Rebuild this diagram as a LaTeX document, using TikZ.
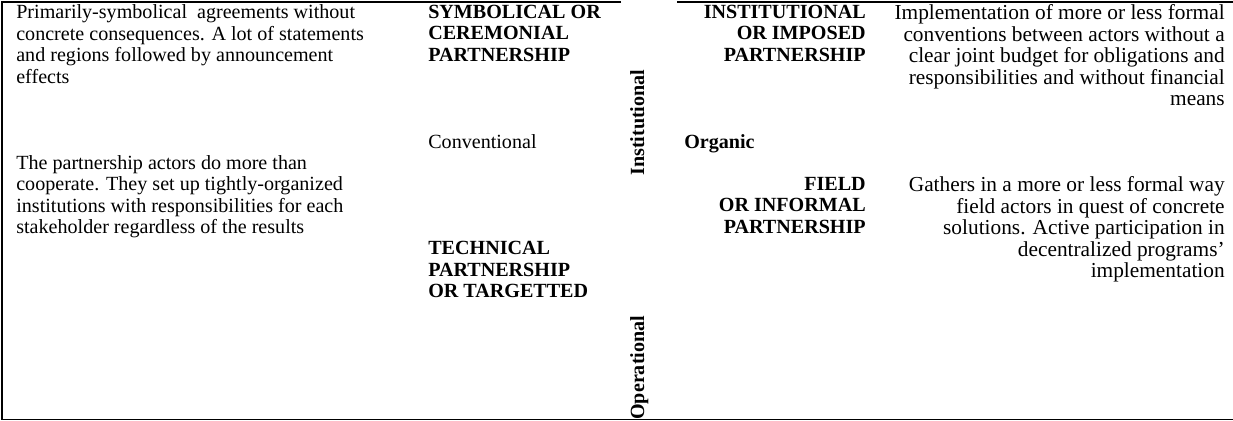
\documentclass[tikz,border=0pt]{standalone}
\usepackage{fontspec}
\setmainfont{Liberation Serif}
\newcommand\cellfont{\fontsize{12.9}{13.8}\selectfont}
\newcommand\sidefont{\fontsize{13.7}{13.8}\selectfont}

\begin{document}
\begin{tikzpicture}[x=0.642pt, y=-0.642pt,
		every node/.style={inner sep=0pt, font=\cellfont},
		txtleft/.style={anchor=north west, align=left, execute at begin node=\strut},
		txtright/.style={anchor=north east, align=right, execute at begin node=\strut},
		boldtxt/.style={font=\cellfont\bfseries},
		sidetxt/.style={font=\sidefont},
		axislabel/.style={rotate=90, anchor=base west, font=\cellfont\bfseries}]
			%%%%% START %%%%%
			\useasboundingbox (0, 0) rectangle (1233, 421);
			
			% table rules
			\draw[line width=1.2pt, line join=miter] (621, 2) -- (2, 2) -- (2, 419.5) -- (1233, 419.5);
			\draw[line width=1.2pt] (677, 2) -- (1233, 2);
			
			% left half
			\node[txtleft] (symbdesc) at (16, 4.6) {Primarily-symbolical\ \ agreements without\\concrete consequences. A lot of statements\\and regions followed by announcement\\effects};
			\node[txtleft] (techdesc) at (16, 155.1) {The partnership actors do more than\\cooperate. They set up tightly-organized\\institutions with responsibilities for each\\stakeholder regardless of the results};
			
			\node[txtleft, boldtxt] (symb) at (428, 4.6) {SYMBOLICAL OR\\CEREMONIAL\\PARTNERSHIP};
			\node[txtleft] (conv) at (428, 133.6) {Conventional};
			\node[txtleft, boldtxt] (tech) at (428, 241.1) {TECHNICAL\\PARTNERSHIP\\OR TARGETTED};
			
			% axis labels
			\node[axislabel] (instlabel) at (644, 176) {Institutional};
			\node[axislabel] (operlabel) at (644, 420) {Operational};
			
			% right half
			\node[txtleft, boldtxt] (organic) at (684, 133.6) {Organic};
			
			\node[txtright, boldtxt] (inst) at (866, 4.6) {INSTITUTIONAL\\OR IMPOSED\\PARTNERSHIP};
			\node[txtright, boldtxt] (field) at (866, 176.6) {FIELD\\OR INFORMAL\\PARTNERSHIP};
			
			\node[txtright, sidetxt] (instdesc) at (1225, 4.6) {Implementation of more or less formal\\conventions between actors without a\\clear joint budget for obligations and\\responsibilities and without financial\\means};
			\node[txtright, sidetxt] (fielddesc) at (1225, 176.6) {Gathers in a more or less formal way\\field actors in quest of concrete\\solutions. Active participation in\\decentralized programs'\\implementation};
			%%%%% END %%%%%
		\end{tikzpicture}
\end{document}
